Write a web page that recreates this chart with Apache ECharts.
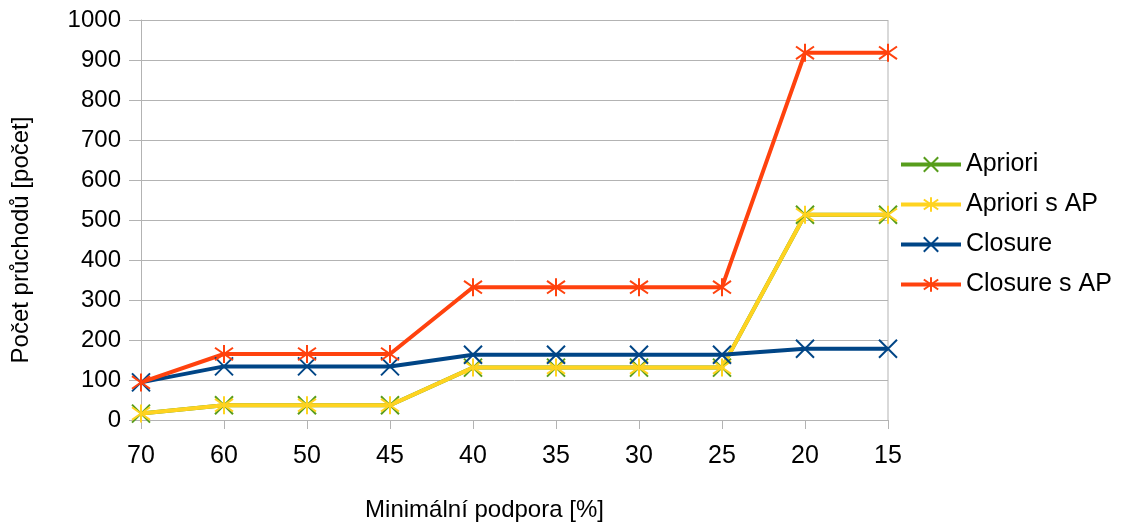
<!DOCTYPE html>
<html lang="cs" style="height: 100%">
<head>
  <meta charset="utf-8">
</head>
<body style="height: 100%; margin: 0; background: #fff">
  <div id="container" style="width: 1127px; height: 523px"></div>

  <script type="text/javascript" src="https://fastly.jsdelivr.net/npm/echarts@6/dist/echarts.min.js"></script>
  <script type="text/javascript">
    var categories = ['70', '60', '50', '45', '40', '35', '30', '25', '20', '15'];
    var apriori = [16, 37, 37, 37, 131, 131, 131, 131, 513, 513];
    var aprioriAP = [16, 37, 37, 37, 131, 131, 131, 131, 513, 513];
    var closure = [94, 134, 134, 134, 163, 163, 163, 163, 178, 178];
    var closureAP = [94, 165, 165, 165, 332, 332, 332, 332, 918, 918];

    var dom = document.getElementById('container');
    var myChart = echarts.init(dom, null, { renderer: 'canvas' });

    var FONT = 'Liberation Sans';
    var CROSS = 'path://M0,0L10,10M0,10L10,0';
    var STAR = 'path://M0,1.5L10,8.5M0,8.5L10,1.5M5,0L5,10';

    function makeSeries(name, data, color, symbol) {
      return {
        name: name,
        type: 'line',
        data: data,
        symbol: symbol,
        symbolSize: 18,
        color: color,
        lineStyle: { color: color, width: 4 },
        itemStyle: { color: color, borderColor: color, borderWidth: 2 },
        emphasis: { disabled: true }
      };
    }

    var option = {
      animation: false,
      grid: { left: 141, right: 239, top: 20, bottom: 103, containLabel: false, outerBoundsMode: 'none' },
      legend: {
        orient: 'vertical',
        left: 894,
        top: 147,
        itemWidth: 60,
        itemHeight: 18,
        itemGap: 15,
        lineStyle: { width: 4 },
        textStyle: { fontFamily: FONT, fontSize: 25, color: '#000', lineHeight: 24 },
        data: ['Apriori', 'Apriori s AP', 'Closure', 'Closure s AP']
      },
      xAxis: {
        type: 'category',
        boundaryGap: false,
        data: categories,
        name: 'Minimální podpora [%]',
        nameLocation: 'middle',
        nameGap: 78,
        nameTextStyle: { fontFamily: FONT, fontSize: 24, color: '#000', padding: [0, 60, 0, 0] },
        axisLine: { lineStyle: { color: '#b3b3b3', width: 1 } },
        axisTick: { show: true, length: 9, alignWithLabel: true, lineStyle: { color: '#b3b3b3' } },
        axisLabel: { fontFamily: FONT, fontSize: 25, color: '#000', margin: 24 },
        splitLine: { show: false }
      },
      yAxis: {
        type: 'value',
        min: 0,
        max: 1000,
        interval: 100,
        name: 'Počet průchodů [počet]',
        nameLocation: 'middle',
        nameGap: 108,
        nameTextStyle: { fontFamily: FONT, fontSize: 24, color: '#000', padding: [0, 40, 0, 0] },
        axisLine: { show: true, lineStyle: { color: '#b3b3b3', width: 1 } },
        axisTick: { show: true, length: 12, lineStyle: { color: '#b3b3b3' } },
        axisLabel: {
          fontFamily: FONT, fontSize: 24, color: '#000', margin: 20,
          formatter: function (v) { return String(v); }
        },
        splitLine: { show: true, lineStyle: { color: '#b3b3b3', width: 1 } }
      },
      graphic: [{
        type: 'line',
        shape: { x1: 888, y1: 20, x2: 888, y2: 420 },
        style: { stroke: '#b3b3b3', lineWidth: 1 },
        silent: true
      }],
      series: [
        makeSeries('Apriori', apriori, '#579d1c', CROSS),
        makeSeries('Apriori s AP', aprioriAP, '#ffd320', STAR),
        makeSeries('Closure', closure, '#004586', CROSS),
        makeSeries('Closure s AP', closureAP, '#ff420e', STAR)
      ]
    };

    myChart.setOption(option);
    window.addEventListener('resize', myChart.resize);
  </script>
</body>
</html>
